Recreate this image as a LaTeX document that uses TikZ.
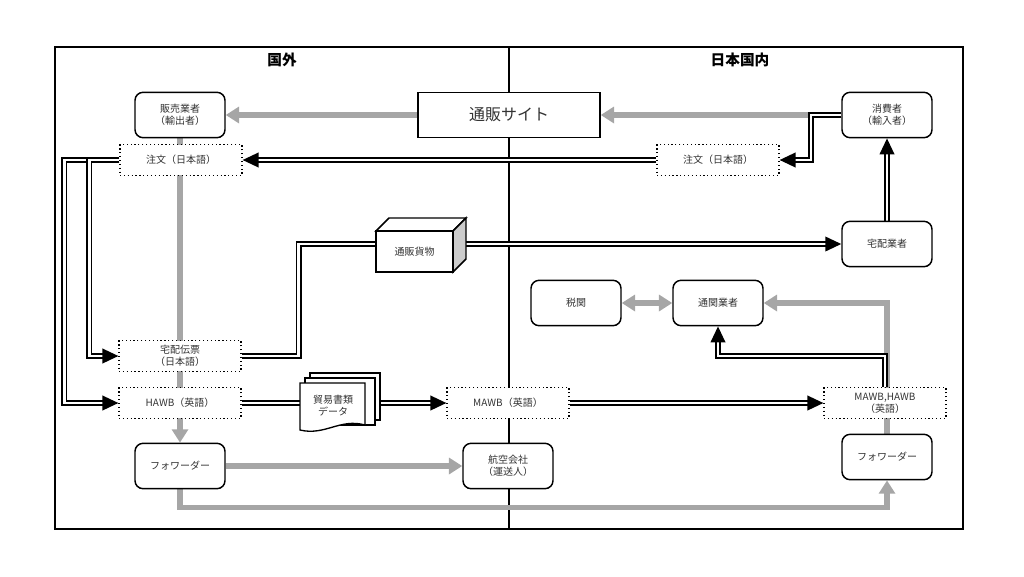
\documentclass[tikz,border=0pt]{standalone}
\usepackage{fontspec}
\setmainfont{Noto Sans CJK JP}
\usetikzlibrary{arrows.meta,backgrounds}
\definecolor{gl}{HTML}{A6A6A6}
\definecolor{tx}{HTML}{333333}
\begin{document}
\begin{tikzpicture}[x=0.75pt,y=-0.75pt,
  every node/.style={font=\fontsize{7.5pt}{9pt}\selectfont,text=tx,align=center,inner sep=1pt},
  rbox/.style={draw=black,line width=1.1pt,rounded corners=6pt,fill=white,minimum width=67.5pt,minimum height=34pt},
  dbox/.style={draw=black,line width=0.9pt,dotted,fill=white,minimum width=91.5pt,minimum height=23pt},
  gr/.style={draw=gl,line width=3.8pt},
  gra/.style={gr,-{Triangle[length=10pt,width=12pt]}},
  dbl/.style={draw=black,double=white,line width=1.3pt,double distance=1.8pt},
  dbla/.style={dbl,-{Triangle[length=12pt,width=11pt]}}]
\useasboundingbox (0,0) rectangle (1024,576);
\begin{scope}[on background layer]
\draw[line width=0.8pt] (55,47) rectangle (963,529);
\draw[line width=0.8pt] (509,47) -- (509,529);
\end{scope}
\node[font=\bfseries\fontsize{11pt}{13pt}\selectfont,text=black] (tg) at (282,60) {国外};
\node[font=\bfseries\fontsize{11pt}{13pt}\selectfont,text=black] (tn) at (740,60) {日本国内};
\node[rbox] (sel) at (180,115) {販売業者\\（輸出者）};
\node[draw=black,line width=1.1pt,fill=white,minimum width=136.5pt,minimum height=34pt,font=\fontsize{12pt}{14pt}\selectfont] (site) at (509,115) {通販サイト};
\node[rbox] (con) at (887,115) {消費者\\（輸入者）};
\node[dbox] (t1) at (181,160) {注文（日本語）};
\node[dbox] (t2) at (718,160) {注文（日本語）};
\node[rbox] (tak) at (887,244) {宅配業者};
\node[dbox] (den) at (180,356) {宅配伝票\\（日本語）};
\node[dbox] (hawb) at (180,403) {HAWB（英語）};
\node[dbox] (mawb) at (508,403) {MAWB（英語）};
\node[dbox] (mh) at (885,403) {MAWB,HAWB\\（英語）};
\node[rbox] (air) at (508,466) {航空会社\\（運送人）};
\node[rbox] (fl) at (180,466) {フォワーダー};
\node[rbox] (fr) at (887,457) {フォワーダー};
\node[rbox] (zei) at (576,303) {税関};
\node[rbox] (tsu) at (718,303) {通関業者};
% 3D box
\draw[line width=1.1pt,fill=white] (376,231) -- (389,218) -- (466,218) -- (453,231) -- cycle;
\draw[line width=1.1pt,fill=gray!40] (453,231) -- (466,218) -- (466,259) -- (453,272) -- cycle;
\node[draw=black,line width=1.1pt,fill=white,minimum width=57.75pt,minimum height=30.75pt] (box) at (414.5,251.5) {通販貨物};
% document stack
\draw[line width=1pt,fill=white] (310,373) rectangle (380,420);
\draw[line width=1pt,fill=white] (305,378) rectangle (375,425);
\draw[line width=1pt,fill=white] (300,383) -- (365,383) -- (365,425) .. controls (340,418) and (325,436) .. (300,430) -- cycle;
\node (doc) at (333,406) {貿易書類\\データ};
\begin{scope}[on background layer]
\draw[gra] (site.west) -- (sel.east);
\draw[gra] (con.west) -- (site.east);
\draw[gra] (sel.south) -- (fl.north);
\draw[gra] (fl.east) -- (air.west);
\draw[gra] (fl.south) -- ++(0,18) -| (fr.south);
\draw[gra] (fr.north) |- (tsu.east);
\draw[gr,{Triangle[length=10pt,width=12pt]}-{Triangle[length=10pt,width=12pt]}] (zei.east) -- (tsu.west);
\draw[dbla] (con.west) -- ++(-30,0) |- (t2.east);
\draw[dbla] (t2.west) -- (t1.east);
\draw[dbla] (t1.west) -- ++(-55,0) |- (hawb.west);
\draw[dbla] (t1.west) -- ++(-30,0) |- (den.west);
\draw[dbla] (den.east) -- ++(57,0) |- (tak.west);
\draw[dbla] (tak.north) -- (con.south);
\draw[dbla] (hawb.east) -- (mawb.west);
\draw[dbla] (mawb.east) -- (mh.west);
\draw[dbla] (mh.north) -- ++(0,-31) -| (tsu.south);
\end{scope}
\end{tikzpicture}
\end{document}
